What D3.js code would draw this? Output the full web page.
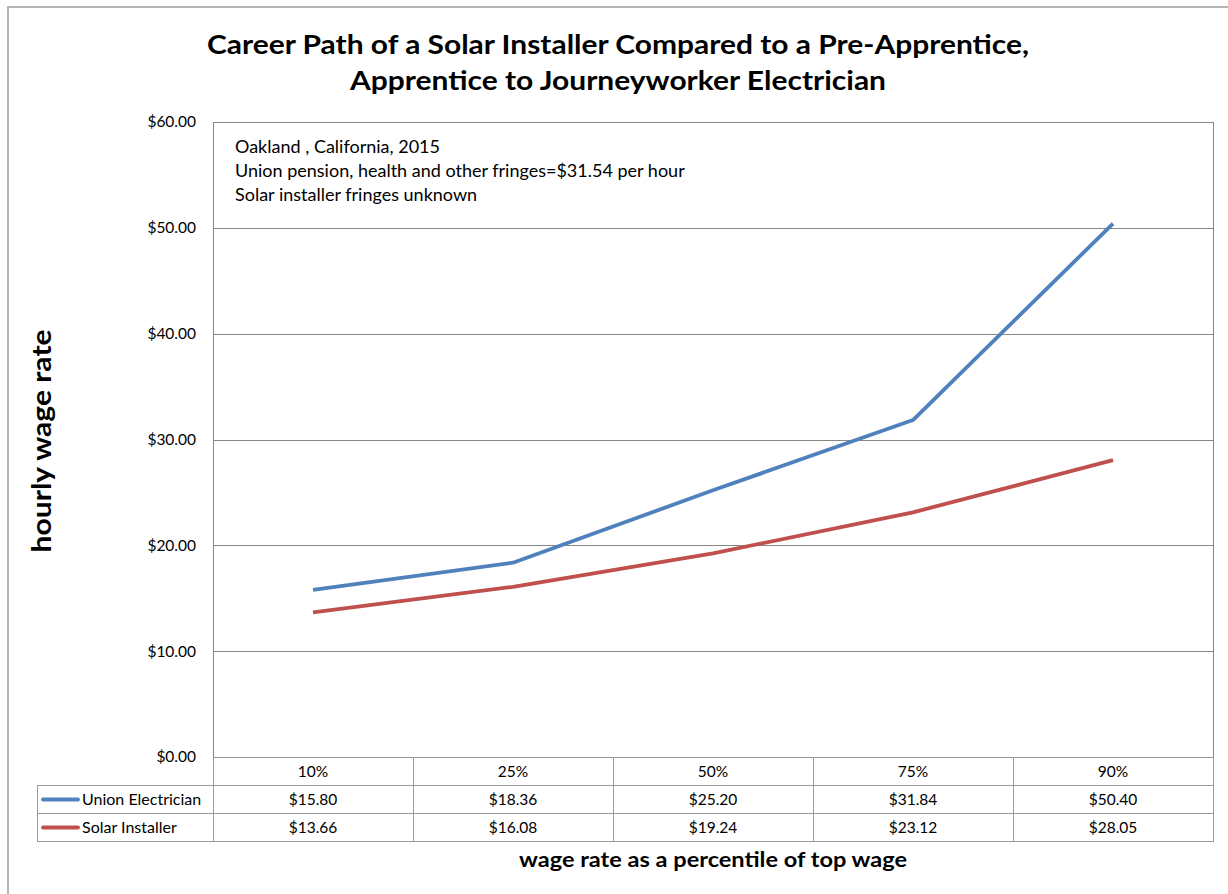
<!DOCTYPE html>
<html><head><meta charset="utf-8">
<script src="https://cdn.jsdelivr.net/npm/d3@7"></script>
<style>body{margin:0;background:#fff}svg{display:block}</style>
</head><body>
<script>
const categories = ["10%", "25%", "50%", "75%", "90%"];
const unionValues = [15.80, 18.36, 25.20, 31.84, 50.40];
const solarValues = [13.66, 16.08, 19.24, 23.12, 28.05];
const seriesNames = ["Union Electrician", "Solar Installer"];
const seriesColors = ["#4F81BD", "#C0504D"];
const yTicks = [0, 10, 20, 30, 40, 50, 60];
const titleLines = ["Career Path of a Solar Installer Compared to a Pre-Apprentice,", "Apprentice to Journeyworker Electrician"];
const noteLines = ["Oakland , California, 2015", "Union pension, health and other fringes=$31.54 per hour", "Solar installer fringes unknown"];

const W = 1228, H = 894;
const pLeft = 213, pRight = 1213, pTop = 122, pBottom = 757;
const font = "Lato, 'Open Sans', sans-serif";

const svg = d3.select("body").append("svg").attr("width", W).attr("height", H);
svg.append("rect").attr("x", 8).attr("y", 7).attr("width", W + 20).attr("height", H + 20)
  .attr("fill", "#fff").attr("stroke", "#b4b4b4").attr("stroke-width", 2);

const x = d3.scaleBand().domain(categories).range([pLeft, pRight]);
const y = d3.scaleLinear().domain([0, 60]).range([pBottom, pTop]);
const cx = c => x(c) + x.bandwidth() / 2;

// title
svg.append("g").selectAll("text").data(titleLines).join("text")
  .attr("x", 618).attr("y", (d, i) => 54 + i * 36)
  .attr("text-anchor", "middle").attr("font-family", font).attr("font-weight", "bold")
  .attr("font-size", 26).attr("fill", "#000")
  .attr("textLength", (d, i) => i === 0 ? 822 : 536).attr("lengthAdjust", "spacingAndGlyphs")
  .text(d => d);

// gridlines
svg.append("g").selectAll("line").data(yTicks).join("line")
  .attr("x1", pLeft).attr("x2", pRight).attr("y1", d => Math.round(y(d)) + 0.5).attr("y2", d => Math.round(y(d)) + 0.5)
  .attr("stroke", "#868686").attr("stroke-width", 1);

// plot border
svg.append("rect").attr("x", pLeft + 0.5).attr("y", pTop + 0.5).attr("width", pRight - pLeft).attr("height", pBottom - pTop)
  .attr("fill", "none").attr("stroke", "#868686");

// y axis
const yAxis = d3.axisLeft(y).tickValues(yTicks).tickSize(0).tickPadding(17)
  .tickFormat(d => "$" + d3.format(".2f")(d));
const yg = svg.append("g").attr("transform", `translate(${pLeft},0)`).call(yAxis);
yg.select(".domain").remove();
yg.selectAll("text").attr("font-family", font).attr("font-size", 15.5).attr("fill", "#000");

// annotation
svg.append("g").selectAll("text").data(noteLines).join("text")
  .attr("x", 235).attr("y", (d, i) => 153 + i * 24)
  .attr("font-family", font).attr("font-size", 18).attr("fill", "#000").text(d => d);

// lines
const line = d3.line().x((d, i) => cx(categories[i])).y(d => y(d));
[unionValues, solarValues].forEach((vals, k) => {
  svg.append("path").datum(vals).attr("d", line).attr("fill", "none")
    .attr("stroke", seriesColors[k]).attr("stroke-width", 3.8).attr("stroke-linejoin", "round");
});

// data table
const rowTop = [pBottom, 785, 813];
const rowH = [28, 28, 28];
const tableLeft = 37;
const tg = svg.append("g");
const gridC = "#9a9a9a";
categories.forEach(c => {
  tg.append("rect").attr("x", x(c) + 0.5).attr("y", rowTop[0] + 0.5).attr("width", x.bandwidth()).attr("height", rowH[0])
    .attr("fill", "none").attr("stroke", gridC);
  tg.append("text").attr("x", cx(c)).attr("y", rowTop[0] + rowH[0] / 2 + 5.5).attr("text-anchor", "middle")
    .attr("font-family", font).attr("font-size", 15.5).text(c);
});
const tableVals = [unionValues, solarValues];
tableVals.forEach((vals, k) => {
  const ry = rowTop[k + 1], rh = rowH[k + 1];
  tg.append("rect").attr("x", tableLeft + 0.5).attr("y", ry + 0.5).attr("width", pLeft - tableLeft).attr("height", rh)
    .attr("fill", "none").attr("stroke", gridC);
  tg.append("line").attr("x1", 43).attr("x2", 78).attr("y1", ry + rh / 2 + 0.5).attr("y2", ry + rh / 2 + 0.5)
    .attr("stroke", seriesColors[k]).attr("stroke-width", 3.8).attr("stroke-linecap", "round");
  tg.append("text").attr("x", 82).attr("y", ry + rh / 2 + 5.5).attr("font-family", font).attr("font-size", 16).text(seriesNames[k]);
  categories.forEach((c, i) => {
    tg.append("rect").attr("x", x(c) + 0.5).attr("y", ry + 0.5).attr("width", x.bandwidth()).attr("height", rh)
      .attr("fill", "none").attr("stroke", gridC);
    tg.append("text").attr("x", cx(c)).attr("y", ry + rh / 2 + 5.5).attr("text-anchor", "middle")
      .attr("font-family", font).attr("font-size", 15.5).text("$" + d3.format(".2f")(vals[i]));
  });
});

// axis titles
svg.append("text").attr("x", 713).attr("y", 867).attr("text-anchor", "middle")
  .attr("font-family", font).attr("font-weight", "bold").attr("font-size", 20)
  .attr("textLength", 388).attr("lengthAdjust", "spacingAndGlyphs")
  .text("wage rate as a percentile of top wage");
svg.append("text").attr("transform", "translate(51,441) rotate(-90)").attr("text-anchor", "middle")
  .attr("font-family", font).attr("font-weight", "bold").attr("font-size", 26)
  .attr("textLength", 223).attr("lengthAdjust", "spacingAndGlyphs")
  .text("hourly wage rate");
</script>
</body></html>
